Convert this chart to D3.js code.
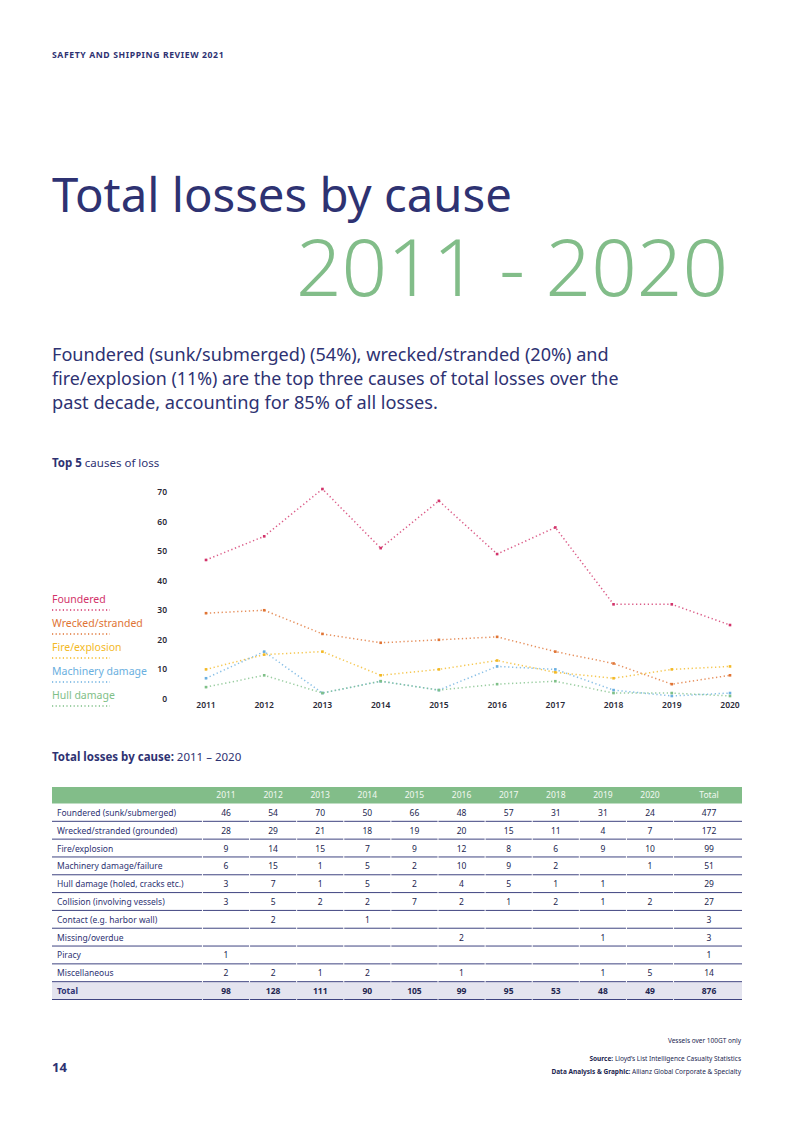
<!DOCTYPE html>
<html>
<head>
<meta charset="utf-8">
<script src="https://cdn.jsdelivr.net/npm/d3@7"></script>
<style>
  body { margin: 0; background: #fff; }
  svg { font-family: "Noto Sans", sans-serif; }
</style>
</head>
<body>
<script>
const years = [2011, 2012, 2013, 2014, 2015, 2016, 2017, 2018, 2019, 2020];

// table rows (null = blank cell)
const causes = [
  "Foundered (sunk/submerged)",
  "Wrecked/stranded (grounded)",
  "Fire/explosion",
  "Machinery damage/failure",
  "Hull damage (holed, cracks etc.)",
  "Collision (involving vessels)",
  "Contact (e.g. harbor wall)",
  "Missing/overdue",
  "Piracy",
  "Miscellaneous"
];
const foundered   = [46, 54, 70, 50, 66, 48, 57, 31, 31, 24];
const wrecked     = [28, 29, 21, 18, 19, 20, 15, 11, 4, 7];
const fire        = [9, 14, 15, 7, 9, 12, 8, 6, 9, 10];
const machinery   = [6, 15, 1, 5, 2, 10, 9, 2, null, 1];
const hull        = [3, 7, 1, 5, 2, 4, 5, 1, 1, null];
const collision   = [3, 5, 2, 2, 7, 2, 1, 2, 1, 2];
const contact     = [null, 2, null, 1, null, null, null, null, null, null];
const missing     = [null, null, null, null, null, 2, null, null, 1, null];
const piracy      = [1, null, null, null, null, null, null, null, null, null];
const misc        = [2, 2, 1, 2, null, 1, null, null, 1, 5];
const causeTotals = [477, 172, 99, 51, 29, 27, 3, 3, 1, 14];
const yearTotals  = [98, 128, 111, 90, 105, 99, 95, 53, 48, 49];
const grandTotal  = 876;

const yTicks = [0, 10, 20, 30, 40, 50, 60, 70];
const legendNames = ["Foundered", "Wrecked/stranded", "Fire/explosion", "Machinery damage", "Hull damage"];
const lineColors  = ["#d2336a", "#e07434", "#f3b925", "#6aafe0", "#7fc088"];
const top5 = [foundered, wrecked, fire, machinery, hull];
const tableRows = [foundered, wrecked, fire, machinery, hull, collision, contact, missing, piracy, misc];

const navy = "#2e3272";
const green = "#82bd89";

const svg = d3.select("body").append("svg")
    .attr("width", 793)
    .attr("height", 1122);

// fit a text element to a target width by changing its font size
function fitWidth(sel, w) {
  const size = parseFloat(sel.attr("font-size"));
  const len = sel.node().getComputedTextLength();
  sel.attr("font-size", size * w / len);
}

// header
const hd = svg.append("text")
    .attr("x", 52).attr("y", 58)
    .attr("font-size", 8).attr("font-weight", 700)
    .attr("letter-spacing", 0.6)
    .attr("fill", navy)
    .text("SAFETY AND SHIPPING REVIEW 2021");
fitWidth(hd, 174);

// titles
const t1 = svg.append("text")
    .attr("x", 52).attr("y", 212)
    .attr("font-size", 52).attr("font-weight", 400)
    .attr("fill", navy)
    .text("Total losses by cause");
fitWidth(t1, 460);

const t2 = svg.append("text")
    .attr("x", 728).attr("y", 296)
    .attr("text-anchor", "end")
    .attr("font-size", 90).attr("font-weight", 300)
    .attr("fill", green)
    .text("2011 - 2020");
fitWidth(t2, 432);

const subLines = [
  "Foundered (sunk/submerged) (54%), wrecked/stranded (20%) and",
  "fire/explosion (11%) are the top three causes of total losses over the",
  "past decade, accounting for 85% of all losses."
];
const subWidths = [557, 567, 386];
subLines.forEach((s, i) => {
  const t = svg.append("text")
      .attr("x", 52).attr("y", 361 + i * 24)
      .attr("font-size", 18)
      .attr("fill", navy)
      .text(s);
  fitWidth(t, subWidths[i]);
});

// chart heading
const h1 = svg.append("text")
    .attr("x", 52).attr("y", 467)
    .attr("font-size", 11.5).attr("fill", navy);
h1.append("tspan").attr("font-weight", 700).text("Top 5");
h1.append("tspan").text(" causes of loss");

// chart
const x = d3.scalePoint().domain(years).range([206, 730]);
const y = d3.scaleLinear().domain([0, 70]).range([696, 489]);

svg.append("g").selectAll("text")
  .data(yTicks)
  .join("text")
    .attr("x", 167)
    .attr("y", d => y(d) + 3)
    .attr("dy", "0.35em")
    .attr("text-anchor", "end")
    .attr("font-size", 8.5).attr("font-weight", 600)
    .attr("fill", "#2a2a38")
    .text(d => d);

svg.append("g").selectAll("text")
  .data(years)
  .join("text")
    .attr("x", d => x(d))
    .attr("y", 708)
    .attr("text-anchor", "middle")
    .attr("font-size", 8.5).attr("font-weight", 600)
    .attr("fill", "#2a2a38")
    .text(d => d);

const line = d3.line()
    .x((d, i) => x(years[i]))
    .y(d => y(d == null ? 0 : d));

const series = svg.append("g").selectAll("g")
  .data(top5)
  .join("g");

series.append("path")
    .attr("d", d => line(d))
    .attr("fill", "none")
    .attr("stroke", (d, i) => lineColors[i])
    .attr("stroke-width", 1.5)
    .attr("stroke-dasharray", "1.3 2.6")
    .attr("opacity", 0.8);

series.selectAll("rect")
  .data((d, i) => d.map(v => ({ v: v == null ? 0 : v, c: lineColors[i] })))
  .join("rect")
    .attr("x", (d, i) => x(years[i]) - 1.3)
    .attr("y", d => y(d.v) - 1.3)
    .attr("width", 2.6).attr("height", 2.6)
    .attr("fill", d => d.c);

// legend
const legend = svg.append("g").selectAll("g")
  .data(legendNames)
  .join("g")
    .attr("transform", (d, i) => `translate(52, ${603 + i * 24})`);

legend.append("text")
    .attr("font-size", 10.5)
    .attr("fill", (d, i) => lineColors[i])
    .text(d => d);

legend.append("line")
    .attr("x1", 0).attr("x2", 58)
    .attr("y1", 7).attr("y2", 7)
    .attr("stroke", (d, i) => lineColors[i])
    .attr("stroke-width", 1.3)
    .attr("stroke-dasharray", "1.2 2.4");

// table heading
const h2 = svg.append("text")
    .attr("x", 52).attr("y", 761)
    .attr("font-size", 11.5).attr("fill", navy);
h2.append("tspan").attr("font-weight", 700).text("Total losses by cause:");
h2.append("tspan").text(" 2011 \u2013 2020");

// table
const tableLeft = 52, tableRight = 742;
const colX = d3.scalePoint().domain(years).range([226, 650]);
const totalX = 709;
const colStep = colX.step();
const rowY = d3.scaleBand().domain(d3.range(11)).range([804, 1000]);

svg.append("rect")
    .attr("x", tableLeft).attr("y", 787)
    .attr("width", tableRight - tableLeft).attr("height", 16.5)
    .attr("fill", green);

svg.append("g").selectAll("text")
  .data(years.map(String).concat(["Total"]))
  .join("text")
    .attr("x", (d, i) => i < 10 ? colX(years[i]) : totalX)
    .attr("y", 795.5)
    .attr("dy", "0.35em")
    .attr("text-anchor", "middle")
    .attr("font-size", 8.5)
    .attr("fill", "#f2f8f2")
    .text(d => d);

// total row background
svg.append("rect")
    .attr("x", tableLeft).attr("y", rowY(10))
    .attr("width", tableRight - tableLeft).attr("height", rowY.bandwidth())
    .attr("fill", "#e4e4ef");

// cell boundaries for row rules
const bounds = [tableLeft, colX(2011) - colStep / 2]
  .concat(years.map(yr => colX(yr) + colStep / 2))
  .concat([tableRight]);

const rows = svg.append("g").selectAll("g")
  .data(d3.range(11))
  .join("g")
    .attr("transform", r => `translate(0, ${rowY(r)})`);

rows.append("text")
    .attr("x", 57)
    .attr("y", rowY.bandwidth() / 2)
    .attr("dy", "0.35em")
    .attr("font-size", 8.5)
    .attr("font-weight", r => r === 10 ? 700 : 400)
    .attr("fill", navy)
    .text(r => r === 10 ? "Total" : causes[r]);

rows.selectAll(".v")
  .data(r => {
    const vals = r === 10 ? yearTotals : tableRows[r];
    const tot = r === 10 ? grandTotal : causeTotals[r];
    return vals.map((v, i) => ({ v, x: colX(years[i]), b: r === 10 }))
      .concat([{ v: tot, x: totalX, b: r === 10 }]);
  })
  .join("text")
    .attr("class", "v")
    .attr("x", d => d.x)
    .attr("y", rowY.bandwidth() / 2)
    .attr("dy", "0.35em")
    .attr("text-anchor", "middle")
    .attr("font-size", 8.5)
    .attr("font-weight", d => d.b ? 700 : 400)
    .attr("fill", "#23264f")
    .text(d => d.v == null ? "" : d.v);

rows.selectAll("line")
  .data(d3.range(bounds.length - 1))
  .join("line")
    .attr("x1", i => bounds[i] + (i ? 0.5 : 0))
    .attr("x2", i => bounds[i + 1] - (i < bounds.length - 2 ? 0.5 : 0))
    .attr("y1", rowY.bandwidth() - 0.5)
    .attr("y2", rowY.bandwidth() - 0.5)
    .attr("stroke", "#3f4480")
    .attr("stroke-width", 1);

// footer
svg.append("text")
    .attr("x", 741).attr("y", 1043)
    .attr("text-anchor", "end")
    .attr("font-size", 6.5).attr("fill", "#23264f")
    .text("Vessels over 100GT only");

const f1 = svg.append("text")
    .attr("x", 741).attr("y", 1061)
    .attr("text-anchor", "end")
    .attr("font-size", 6.5).attr("fill", "#23264f");
f1.append("tspan").attr("font-weight", 700).text("Source:");
f1.append("tspan").text(" Lloyd\u2019s List Intelligence Casualty Statistics");

const f2 = svg.append("text")
    .attr("x", 741).attr("y", 1074)
    .attr("text-anchor", "end")
    .attr("font-size", 6.5).attr("fill", "#23264f");
f2.append("tspan").attr("font-weight", 700).text("Data Analysis & Graphic:");
f2.append("tspan").text(" Allianz Global Corporate & Specialty");

svg.append("text")
    .attr("x", 52).attr("y", 1072)
    .attr("font-size", 13).attr("font-weight", 700)
    .attr("fill", navy)
    .text("14");
</script>
</body>
</html>
